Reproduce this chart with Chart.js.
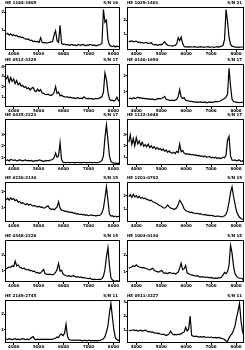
<!DOCTYPE html>
<html>
<head>
<meta charset="utf-8">
<script src="https://cdn.jsdelivr.net/npm/chart.js@4.4.0/dist/chart.umd.min.js"></script>
<style>
  body { margin: 0; background: #fff; width: 245px; height: 350px; overflow: hidden; position: relative; font-family: "DejaVu Sans", sans-serif; }
  canvas { position: absolute; }
  .lbl { position: absolute; font-size: 4px; font-weight: bold; line-height: 4px; white-space: nowrap; color: #000; }
</style>
</head>
<body>
<script>
// wavelength grid (Angstrom), shared by all panels
const wavelength = [3700,3760,3820,3880,3940,4000,4060,4120,4180,4240,
  4300,4360,4420,4480,4540,4600,4660,4720,4780,4840,
  4900,4960,5020,5080,5140,5200,5260,5320,5380,5440,
  5500,5560,5620,5680,5740,5800,5860,5920,5980,6040,
  6100,6160,6220,6280,6340,6400,6460,6520,6580,6640,
  6700,6760,6820,6880,6940,7000,7060,7120,7180,7240,
  7300,7360,7420,7480,7540,7600,7660,7720,7780,7840,
  7900,7960,8020,8080,8140,8200,8260,8320];

const xTicks = [4000, 5000, 6000, 7000, 8000];

const fluxA = [3.7,3.9,3.5,3.8,3.4,3.6,3.3,3.4,3.1,3.2, 2.9,3.0,2.7,2.6,2.5,2.6,2.2,2.3,2.0,2.1,
  1.9,2.0,1.8,2.9,1.8,1.7,1.8,1.6,1.7,1.8, 1.9,2.0,3.5,4.5,2.2,1.8,5.8,1.6,1.3,1.4,
  1.2,1.3,1.1,1.2,1.3,1.1,1.2,1.0,1.3,1.2, 1.1,1.3,1.2,1.0,1.2,1.1,1.3,1.2,1.1,1.2,
  1.0,1.1,1.2,1.3,1.6,9.5,6.5,7.0,2.5,1.2, 0.9,0.8,1.0,0.7,0.9,0.8,0.9,0.8];
const fluxB = [2.1,2.0,2.2,1.9,2.0,2.1,1.8,1.9,1.7,1.8, 1.6,1.7,1.8,1.5,1.6,1.7,1.3,1.2,1.3,1.1,
  1.2,1.3,1.2,1.6,1.9,1.4,1.1,1.0,1.0,0.9, 1.0,1.1,1.4,2.9,2.2,3.0,1.5,0.8,0.7,0.8,
  0.7,0.8,0.7,0.7,0.8,0.7,0.6,0.7,0.8,0.7, 0.6,0.7,0.7,0.8,0.6,0.7,0.7,0.6,0.7,0.8,
  0.7,0.8,0.9,1.1,2.5,9.5,6.7,3.0,1.3,0.9, 0.8,0.7,0.6,0.7,0.6,0.7,0.7,0.6];
const fluxC = [6.5,7.2,5.8,6.9,6.0,6.6,5.5,6.2,5.2,5.6, 4.9,5.1,4.6,4.8,4.3,4.5,4.0,4.4,4.6,3.8,
  3.6,4.2,3.7,4.1,3.3,3.2,3.0,2.9,3.0,2.8, 2.7,2.9,3.4,4.8,3.2,3.5,2.6,2.8,2.5,2.4,
  2.3,2.4,2.2,2.3,2.1,2.2,2.0,2.1,2.2,2.0, 2.1,2.0,2.4,2.1,1.9,2.0,1.9,2.0,1.8,1.9,
  2.0,1.9,2.1,2.2,2.4,3.5,8.0,6.5,3.5,1.9, 1.5,1.6,1.4,1.6,2.3,1.5,1.5,1.6];
const fluxD = [2.0,2.1,1.9,2.2,2.0,2.1,2.3,2.1,2.2,2.0, 2.1,1.9,2.0,1.8,1.9,1.8,1.9,1.7,1.8,1.9,
  2.0,1.9,2.0,2.2,2.5,1.8,1.7,1.6,1.5,1.6, 1.5,1.6,1.8,2.4,4.1,2.3,2.0,2.2,1.6,1.5,
  1.4,1.3,1.3,1.2,1.2,1.1,1.2,1.1,1.2,1.1, 1.1,1.2,1.0,1.1,1.2,1.1,1.1,1.2,1.3,1.2,
  1.3,1.4,1.6,1.8,2.0,2.3,3.0,9.1,5.0,1.8, 1.3,1.2,1.1,1.1,1.0,1.1,1.1,1.0];
const fluxE = [1.0,1.1,0.9,1.2,1.1,1.0,1.1,0.9,1.0,1.1, 1.0,0.9,1.0,1.1,0.9,1.0,0.9,1.0,0.8,0.9,
  1.0,0.9,1.1,1.0,0.9,0.8,0.9,1.0,0.9,1.0, 1.1,1.2,1.6,2.6,1.7,2.0,4.9,1.2,0.6,0.5,
  0.5,0.6,0.5,0.5,0.6,0.5,0.5,0.5,0.6,0.5, 0.5,0.5,0.6,0.5,0.5,0.5,0.6,0.5,0.5,0.6,
  0.5,0.5,0.6,0.7,1.0,2.0,6.0,8.8,5.5,2.0, 0.8,0.5,0.4,0.4,0.3,0.4,0.3,0.4];
const fluxF = [5.0,6.6,4.5,5.8,4.2,6.0,4.6,5.3,4.3,5.0, 4.1,4.5,4.0,4.6,3.8,4.2,3.7,4.0,3.5,3.8,
  3.4,3.6,3.2,3.5,3.0,3.3,2.8,3.1,2.7,2.6, 2.8,2.5,3.0,2.7,4.6,2.9,3.2,2.6,2.4,2.5,
  2.3,2.4,2.2,2.3,2.1,2.2,2.0,2.1,1.9,2.0, 1.8,2.0,1.7,1.8,1.9,1.6,1.7,1.5,1.7,1.4,
  1.6,1.4,1.5,1.7,1.6,2.2,5.5,6.3,2.0,1.1, 1.0,1.1,0.9,1.0,1.1,0.8,0.9,0.8];
const fluxG = [5.6,6.0,5.5,6.1,5.7,5.9,5.4,5.6,5.0,5.2, 4.7,4.9,4.6,4.4,4.6,4.3,4.5,4.2,4.0,4.2,
  4.0,3.8,4.0,3.7,3.8,3.5,3.6,3.9,4.1,3.4, 3.2,3.3,3.1,3.4,3.8,5.1,3.5,3.0,2.9,2.7,
  2.8,2.5,2.6,2.4,2.5,2.2,2.3,2.0,2.1,1.9, 2.0,1.8,1.9,1.7,1.8,1.6,1.7,1.8,1.6,1.7,
  1.5,1.7,1.6,1.8,2.3,3.5,6.0,8.9,5.5,2.0, 1.5,1.6,1.3,1.5,1.3,1.4,1.4,1.3];
const fluxH = [6.4,6.9,6.2,7.0,6.3,6.7,6.1,6.5,6.0,6.2, 5.9,6.0,5.7,5.6,5.4,5.5,5.1,5.0,4.8,4.6,
  4.3,4.1,3.9,3.6,3.5,3.8,4.3,3.8,3.5,3.4, 3.2,3.3,3.6,4.4,5.5,5.0,4.2,3.3,2.9,2.7,
  2.6,2.4,2.5,2.3,2.2,2.1,2.2,2.0,2.1,1.9, 1.8,1.9,1.7,1.8,1.6,1.7,1.6,1.5,1.4,1.5,
  1.5,1.4,1.3,1.4,1.6,2.0,3.0,5.0,7.5,8.9, 6.5,4.5,2.7,1.8,1.2,0.9,0.7,0.5];
const fluxI = [3.2,3.4,3.6,3.5,3.9,3.7,5.0,3.9,4.1,3.6, 3.4,3.2,3.3,3.0,2.9,3.0,2.7,2.8,2.5,2.6,
  2.2,2.3,2.1,2.2,2.6,3.0,2.0,1.9,1.8,1.9, 1.8,1.7,1.9,2.3,3.0,4.5,2.6,2.8,1.9,1.7,
  1.5,1.4,1.5,1.3,1.4,1.5,1.3,1.2,1.3,1.1, 1.2,1.0,1.1,0.9,0.9,0.8,0.9,0.7,0.6,0.7,
  0.6,0.6,0.7,0.6,0.8,1.4,3.0,6.0,8.3,4.0, 1.0,0.5,0.3,0.2,0.3,0.2,0.3,0.2];
const fluxJ = [3.3,3.5,3.6,3.9,3.7,4.1,3.8,3.6,3.5,3.4, 3.5,3.3,3.2,3.0,2.9,3.1,3.3,2.8,2.6,2.5,
  2.4,2.6,2.8,2.3,2.1,2.2,2.0,2.3,2.2,2.0, 2.1,1.9,2.1,2.4,3.3,4.5,3.0,3.2,4.0,2.2,
  2.0,1.8,1.7,1.6,1.5,1.4,1.5,1.3,1.2,1.3, 1.2,1.1,1.2,1.1,1.0,1.1,1.0,0.9,1.0,0.9,
  1.0,1.0,1.2,1.7,2.3,2.0,2.5,4.0,8.8,7.0, 3.8,2.0,1.4,1.0,0.9,0.9,0.8,0.1];
const fluxK = [0.9,0.8,1.0,0.9,0.8,0.9,1.0,0.8,0.9,0.8, 0.9,1.0,0.9,0.8,0.9,0.8,1.0,1.3,1.5,0.9,
  0.8,0.9,0.8,0.9,0.8,0.9,0.8,0.9,0.8,0.9, 0.8,0.9,1.0,1.1,1.4,1.3,1.9,2.1,1.7,2.3,
  4.4,1.5,0.8,0.7,0.6,0.7,0.6,0.7,0.6,0.7, 0.6,0.5,0.6,0.6,0.5,0.6,0.6,0.5,0.6,0.5,
  0.6,0.5,0.6,0.6,0.8,1.0,1.5,2.6,4.0,7.0, 9.3,6.0,3.0,1.2,0.8,0.6,0.5,0.6];
const fluxL = [3.0,2.9,3.0,3.1,2.9,3.0,2.8,2.9,3.0,2.8, 2.9,3.0,2.8,2.6,2.7,2.5,2.6,2.3,2.4,2.2,
  2.3,2.1,2.0,2.1,1.9,1.8,1.9,2.2,2.8,2.2, 1.9,2.0,1.9,2.1,2.0,2.2,2.4,2.6,3.7,2.8,
  3.3,6.3,1.8,1.6,1.5,1.6,1.5,1.4,1.5,1.4, 1.5,1.4,1.3,1.4,1.3,1.4,1.3,1.2,1.3,1.2,
  1.3,1.2,1.1,1.0,0.8,0.5,0.4,1.2,1.8,2.2, 3.0,4.0,5.9,7.5,9.3,5.2,2.8,1.5];

const fluxes = [fluxA, fluxB, fluxC, fluxD, fluxE, fluxF, fluxG, fluxH, fluxI, fluxJ, fluxK, fluxL];

const names = ["HE 1104-1805", "HE 1029-1401", "HE 0512-3329", "HE 0140-1650",
  "HE 0435-2223", "HE 1122-1648", "HE 0230-2130", "HE 1201-0702",
  "HE 0348-2226", "HE 1003-0130", "HE 2149-2745", "HE 0511-3227"];
const labels = ["S/N 16", "S/N 21", "S/N 17", "S/N 17", "S/N 17", "S/N 17",
  "S/N 15", "S/N 15", "S/N 15", "S/N 15", "S/N 11", "S/N 11"];

// y tick positions and their labels, per panel
const yTickVals = [[4.6, 8.9], [3.7, 7.0], [2.3, 4.8, 7.2, 9.4], [3.6, 7.3],
  [1.6, 4.2, 6.6], [1.7, 4.2, 6.6], [3.6, 7.7], [3.2, 6.6],
  [2.7, 6.4], [2.5, 6.4], [3.1, 6.8], [3.0, 6.3, 9.6]];
const yTickText = [["1", "2"], ["1", "2"], ["1", "2", "3", "4"], ["1", "2"],
  ["1", "2", "3"], ["1", "2", "3"], ["1", "2"], ["1", "2"],
  ["1", "2"], ["1", "2"], ["1", "2"], ["1", "2", "3"]];

// layout of the 6 x 2 grid
const rowTop = [5, 62, 117, 180, 238, 298];
const rowH = [45, 45, 48, 42, 44, 45];
const colCanvasLeft = [0, 120];
const colCanvasW = [121, 125];
const colAxisW = [5, 7];
const colMin = [3652, 3628];
const colMax = [8264, 8320];

const framePlugin = {
  id: "frame",
  afterDraw(chart) {
    const a = chart.chartArea, c = chart.ctx;
    c.save();
    c.strokeStyle = "#000";
    c.lineWidth = 1;
    c.strokeRect(Math.round(a.left) + 0.5, Math.round(a.top) + 0.5,
      Math.round(a.right - a.left) - 1, Math.round(a.bottom - a.top) - 1);
    c.restore();
  }
};

fluxes.forEach(function (flux, p) {
  const row = Math.floor(p / 2), col = p % 2;
  const top = rowTop[row], h = rowH[row];

  const canvas = document.createElement("canvas");
  canvas.width = colCanvasW[col];
  canvas.height = h + 7;
  canvas.style.left = colCanvasLeft[col] + "px";
  canvas.style.top = top + "px";
  document.body.appendChild(canvas);

  const t = document.createElement("div");
  t.className = "lbl";
  t.textContent = names[p];
  t.style.left = (colCanvasLeft[col] + colAxisW[col]) + "px";
  t.style.top = Math.max(0, top - 4) + "px";
  document.body.appendChild(t);

  const r = document.createElement("div");
  r.className = "lbl";
  r.textContent = labels[p];
  r.style.right = (245 - colCanvasLeft[col] - colCanvasW[col] + 3) + "px";
  r.style.top = Math.max(0, top - 4) + "px";
  document.body.appendChild(r);

  new Chart(canvas.getContext("2d"), {
    type: "line",
    data: {
      datasets: [{
        data: wavelength.map(function (w, i) { return { x: w, y: flux[i] }; }),
        borderColor: "#000",
        borderWidth: 1.2,
        pointRadius: 0,
        tension: 0,
      }],
    },
    options: {
      animation: false,
      responsive: false,
      devicePixelRatio: 1,
      layout: { padding: { left: 0, right: 1, top: 0, bottom: 0 }, autoPadding: false },
      plugins: { legend: { display: false }, tooltip: { enabled: false } },
      scales: {
        x: {
          type: "linear",
          min: colMin[col],
          max: colMax[col],
          afterBuildTicks: function (s) { s.ticks = xTicks.map(function (v) { return { value: v }; }); },
          afterFit: function (s) { s.height = 7; },
          ticks: {
            color: "#000", font: { size: 4, family: "DejaVu Sans", weight: "bold" }, padding: 0, maxRotation: 0, autoSkip: false,
            callback: function (v) { return String(v); },
          },
          grid: { drawOnChartArea: false, tickLength: 2, color: "#000" },
          border: { display: false },
        },
        y: {
          min: 0,
          max: 10,
          afterBuildTicks: function (s) { s.ticks = yTickVals[p].map(function (v) { return { value: v }; }); },
          afterFit: function (s) { s.width = colAxisW[col]; },
          ticks: {
            color: "#000", font: { size: 4, family: "DejaVu Sans", weight: "bold" }, padding: 0,
            callback: function (v, i) { return yTickText[p][i]; },
          },
          grid: { drawOnChartArea: false, tickLength: 1, color: "#000" },
          border: { display: false },
        },
      },
    },
    plugins: [framePlugin],
  });
});
</script>
</body>
</html>
